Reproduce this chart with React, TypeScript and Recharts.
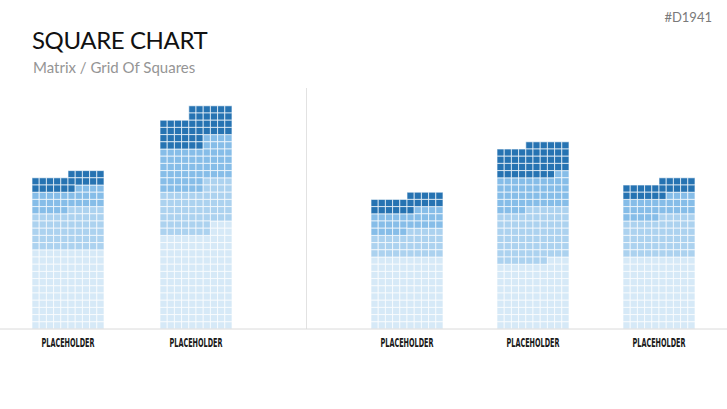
import React from 'react';
import { BarChart, Bar, XAxis, YAxis } from 'recharts';

const GROUPS = ['PLACEHOLDER', 'PLACEHOLDER', 'PLACEHOLDER', 'PLACEHOLDER', 'PLACEHOLDER'];

// rows of squares per sub-column (10 sub-columns per group), bottom to top
const LIGHTEST = [
  [11, 11, 11, 11, 11, 11, 11, 11, 11, 11],
  [13, 13, 13, 13, 13, 13, 13, 15, 15, 15],
  [10, 10, 10, 10, 10, 10, 10, 10, 10, 10],
  [9, 9, 9, 9, 9, 9, 9, 10, 10, 10],
  [10, 10, 10, 10, 10, 10, 10, 10, 10, 10],
];
const LIGHT = [
  [5, 5, 5, 5, 5, 6, 6, 6, 6, 6],
  [6, 6, 6, 6, 6, 6, 8, 6, 6, 6],
  [3, 3, 3, 3, 3, 4, 4, 4, 4, 4],
  [7, 7, 7, 7, 8, 8, 8, 7, 7, 7],
  [5, 5, 5, 5, 5, 6, 6, 6, 6, 6],
];
const MEDIUM = [
  [3, 3, 3, 3, 3, 2, 3, 3, 3, 3],
  [6, 6, 6, 6, 6, 6, 6, 6, 6, 6],
  [3, 3, 3, 3, 3, 2, 3, 3, 3, 3],
  [5, 5, 5, 5, 4, 4, 4, 4, 5, 5],
  [3, 3, 3, 3, 3, 2, 3, 3, 3, 3],
];
const DARK = [
  [2, 2, 2, 2, 2, 3, 2, 2, 2, 2],
  [4, 4, 4, 4, 6, 6, 4, 4, 4, 4],
  [2, 2, 2, 2, 2, 3, 2, 2, 2, 2],
  [4, 4, 4, 4, 5, 5, 5, 5, 4, 4],
  [2, 2, 2, 2, 2, 3, 2, 2, 2, 2],
];

const SHADES = [LIGHTEST, LIGHT, MEDIUM, DARK];
const COLORS = ['#d6e9f7', '#acd2ef', '#86bde8', '#2673b2'];
const SUB_COLS = 10;
const Y_MAX = 40;
const ROW_PX = 7.2;
const PLOT_H = Y_MAX * ROW_PX;

const data = GROUPS.map((name, g) => {
  const row: Record<string, number | string> = { name };
  for (let i = 0; i < SUB_COLS; i++) {
    SHADES.forEach((shade, s) => {
      row[`c${i}s${s}`] = shade[g][i];
    });
  }
  return row;
});

function GridCell(props: any) {
  const { x, y, width, height, fill } = props;
  if (!height || height <= 0) return null;
  const n = Math.max(1, Math.round(height / ROW_PX));
  const h = height / n;
  return (
    <g>
      {Array.from({ length: n }, (_, k) => (
        <rect
          key={k}
          x={x}
          y={y + k * h}
          width={width}
          height={h}
          fill={fill}
          stroke="#ffffff"
          strokeOpacity={0.65}
          strokeWidth={1}
        />
      ))}
    </g>
  );
}

function GroupTick(props: any) {
  const { x, y, payload } = props;
  return (
    <text
      x={x}
      y={y + 10}
      textAnchor="middle"
      fontSize={12}
      fontWeight="bold"
      fontFamily="'DejaVu Sans Condensed', 'Liberation Sans', sans-serif"
      textLength={53}
      lengthAdjust="spacingAndGlyphs"
      fill="#1a1a1a"
    >
      {payload.value}
    </text>
  );
}

function SquareGroups({ rows, width, padLeft, padRight }: { rows: Record<string, number | string>[]; width: number; padLeft: number; padRight: number }) {
  const bars = [];
  for (let i = 0; i < SUB_COLS; i++) {
    for (let s = 0; s < SHADES.length; s++) {
      bars.push(
        <Bar
          key={`c${i}s${s}`}
          dataKey={`c${i}s${s}`}
          stackId={`c${i}`}
          fill={COLORS[s]}
          barSize={7.2}
          shape={GridCell}
          isAnimationActive={false}
        />,
      );
    }
  }
  return (
    <BarChart
      width={width}
      height={PLOT_H + 40}
      data={rows}
      barGap={0}
      margin={{ top: 0, right: 0, bottom: 0, left: 0 }}
    >
      <XAxis
        dataKey="name"
        height={40}
        tickLine={false}
        axisLine={{ stroke: '#dadada' }}
        tick={<GroupTick />}
        padding={{ left: padLeft, right: padRight }}
        interval={0}
      />
      <YAxis hide domain={[0, Y_MAX]} type="number" />
      {bars}
    </BarChart>
  );
}

export default function App() {
  return (
    <div style={{ position: 'absolute', left: 0, top: 0, width: 727, height: 409, background: '#fff', fontFamily: 'Lato, sans-serif' }}>
      <div style={{ position: 'absolute', right: 15, top: 9, fontSize: 13, color: '#7a7a7a' }}>#D1941</div>
      <div style={{ position: 'absolute', left: 32, top: 25, fontSize: 24, color: '#111', letterSpacing: -0.4 }}>SQUARE CHART</div>
      <div style={{ position: 'absolute', left: 33, top: 58, fontSize: 15, color: '#959595' }}>Matrix / Grid Of Squares</div>
      <div style={{ position: 'absolute', left: 306, top: 88, width: 1, height: 241, background: '#e2e2e2' }} />
      <div style={{ position: 'absolute', left: 0, top: 329 - PLOT_H }}>
        <SquareGroups rows={data.slice(0, 2)} width={306} padLeft={4} padRight={46} />
      </div>
      <div style={{ position: 'absolute', left: 306, top: 329 - PLOT_H }}>
        <SquareGroups rows={data.slice(2)} width={421} padLeft={38} padRight={5} />
      </div>
    </div>
  );
}
